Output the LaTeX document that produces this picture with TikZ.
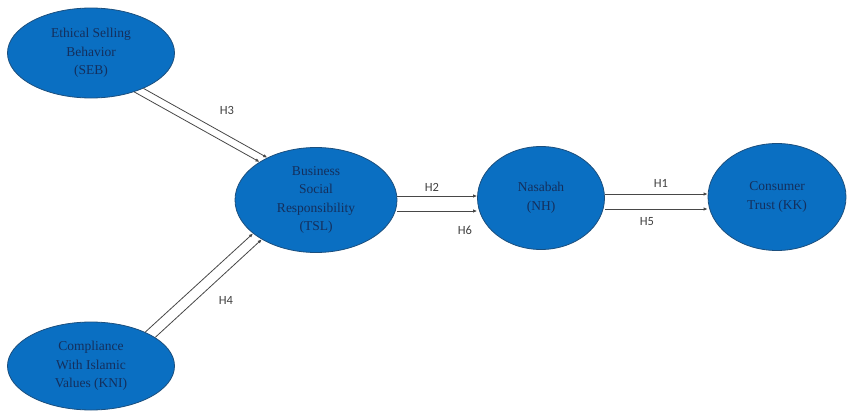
\documentclass[tikz,border=0pt]{standalone}
\usepackage{fontspec}
\setmainfont{Liberation Serif}
\newfontfamily\labelfont{Carlito}
\usepackage{tikz}
\usetikzlibrary{shapes.geometric,arrows.meta,positioning,calc}
\definecolor{VarBlue}{HTML}{0A6FC2}
\definecolor{VarEdge}{HTML}{1B4F7E}
\definecolor{VarText}{HTML}{142F5C}
\definecolor{PathGray}{HTML}{474747}
\tikzset{
    % Latent variable
    varnode/.style={
        ellipse,
        draw=VarEdge,
        fill=VarBlue,
        text=VarText,
        line width=0.8pt,
        inner sep=0pt,
        align=center,
        font=\fontsize{13.5}{18.5}\selectfont
    },
    % Hypothesis path
    hyparrow/.style={
        -{Latex[length=4pt,width=3.5pt]},
        line width=0.8pt,
        draw=PathGray
    },
    % Path label
    hyplabel/.style={
        font=\labelfont\fontsize{12.5}{14}\selectfont,
        text=black!75
    }
}
\begin{document}
\begin{tikzpicture}[x=1pt,y=-1pt]
        \useasboundingbox (0,0) rectangle (849,415);

        % Exogenous variables
        \node[varnode, minimum width=167pt, minimum height=90pt] (seb) at (91,53) {Ethical Selling\\Behavior\\(SEB)};
        \node[varnode, minimum width=167pt, minimum height=88pt] (kni) at (91,366) {Compliance\\With Islamic\\Values (KNI)};

        % Mediator
        \node[varnode, minimum width=162pt, minimum height=105pt] (tsl) at (316,200) {Business\\Social\\Responsibility\\(TSL)};

        % Customer
        \node[varnode, minimum width=127pt, minimum height=103pt] (nh) at (541,198) {Nasabah\\(NH)};

        % Outcome
        \node[varnode, minimum width=138pt, minimum height=107pt] (kk) at (777,197) {Consumer\\Trust (KK)};

        % Arrows
        \draw[hyparrow] (seb.-34) -- (tsl.139);
        \draw[hyparrow] (seb.-42) -- (tsl.146);
        \draw[hyparrow] (kni.32) -- (tsl.208);
        \draw[hyparrow] (kni.24) -- (tsl.216);

        \draw[hyparrow] ([yshift=4pt]tsl.east) -- ([yshift=4pt]tsl.east -| nh.west);
        \draw[hyparrow] ([yshift=-11pt]tsl.east) -- ([yshift=-11pt]tsl.east -| nh.west);
        \draw[hyparrow] ([yshift=4pt]nh.east) -- ([yshift=4pt]nh.east -| kk.west);
        \draw[hyparrow] ([yshift=-11pt]nh.east) -- ([yshift=-11pt]nh.east -| kk.west);

        % Labels
        \node[hyplabel] (h3) at (227,110) {H3};
        \node[hyplabel] (h4) at (226,300) {H4};
        \node[hyplabel] (h2) at (432,187) {H2};
        \node[hyplabel] (h6) at (465,230) {H6};
        \node[hyplabel] (h1) at (661,183) {H1};
        \node[hyplabel] (h5) at (647,222) {H5};
    \end{tikzpicture}
\end{document}
